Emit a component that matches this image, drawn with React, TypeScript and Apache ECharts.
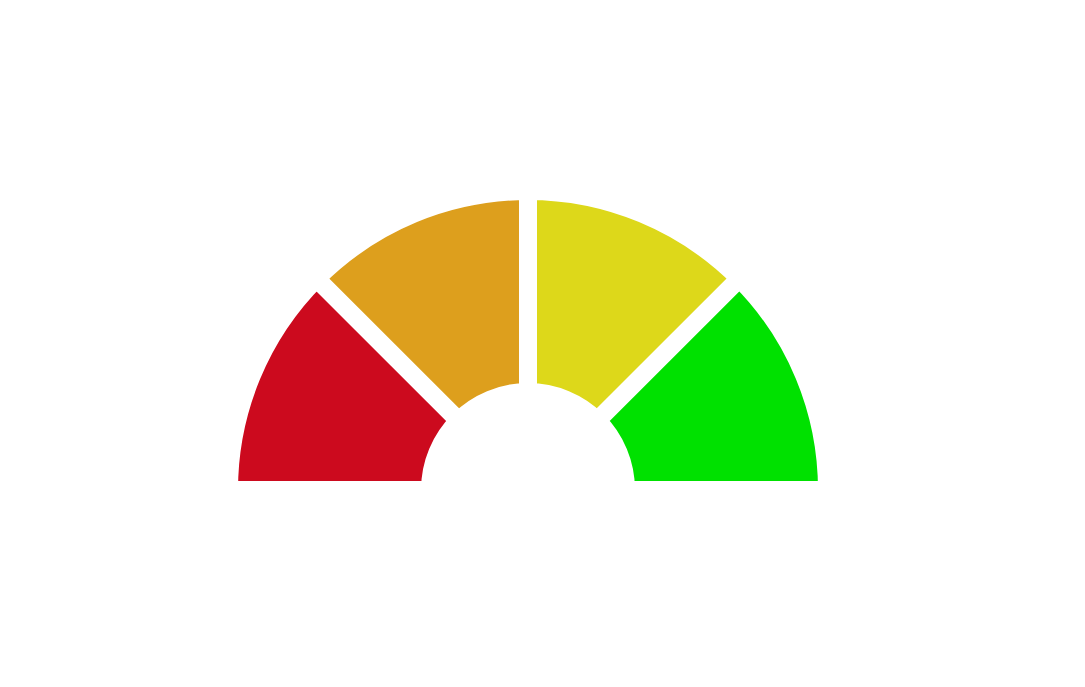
import React, { useEffect, useRef } from 'react';
import * as echarts from 'echarts';

const bands = ['Poor', 'Fair', 'Good', 'Excellent'];
const bandValues = [25, 25, 25, 25];
const bandColors = ['#CC0A1E', '#DD9F1D', '#DDD81A', '#00E100'];

const App: React.FC = () => {
  const ref = useRef<HTMLDivElement>(null);

  useEffect(() => {
    if (!ref.current) return;
    const chart = echarts.init(ref.current, undefined, { renderer: 'svg' });

    const total = bandValues.reduce((a, b) => a + b, 0);
    const data = bands.map((name, i) => ({
      name,
      value: bandValues[i],
      itemStyle: { color: bandColors[i] },
    }));
    // bottom half stays invisible so the pie reads as a half gauge
    data.push({
      name: 'hidden',
      value: total,
      itemStyle: { color: 'rgba(0,0,0,0)', borderWidth: 0 } as any,
    });

    chart.setOption({
      animation: false,
      series: [
        {
          type: 'pie',
          startAngle: 180,
          clockwise: true,
          center: [520, 482],
          radius: [98, 299],
          silent: true,
          label: { show: false },
          labelLine: { show: false },
          itemStyle: { borderColor: '#ffffff', borderWidth: 18 },
          emphasis: { disabled: true },
          data,
        },
      ],
    });

    return () => chart.dispose();
  }, []);

  return <div ref={ref} style={{ width: '100%', height: 671 }} />;
};

export default App;
